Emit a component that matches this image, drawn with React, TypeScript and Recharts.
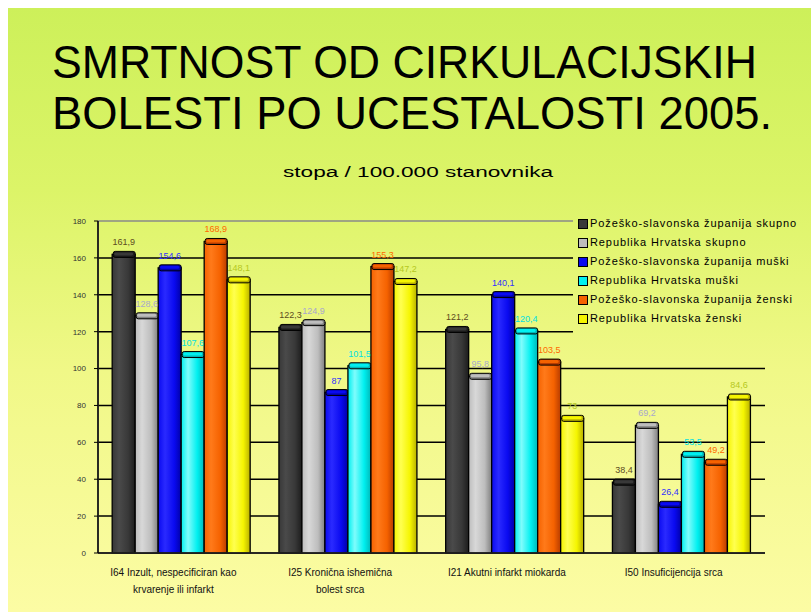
import {
  Bar,
  BarChart,
  CartesianGrid,
  LabelList,
  ReferenceArea,
  ReferenceLine,
  XAxis,
  YAxis,
} from "recharts";

const categories = [
  "I64 Inzult, nespecificiran kao\nkrvarenje ili infarkt",
  "I25 Kronična ishemična\nbolest srca",
  "I21 Akutni infarkt miokarda",
  "I50 Insuficijencija srca",
];

const seriesNames = [
  "Požeško-slavonska županija skupno",
  "Republika Hrvatska skupno",
  "Požeško-slavonska županija muški",
  "Republika Hrvatska muški",
  "Požeško-slavonska županija ženski",
  "Republika Hrvatska ženski",
];

const pszSkupno = [161.9, 122.3, 121.2, 38.4];
const rhSkupno = [128.6, 124.9, 95.8, 69.2];
const pszMuski = [154.6, 87, 140.1, 26.4];
const rhMuski = [107.6, 101.5, 120.4, 53.5];
const pszZenski = [168.9, 155.3, 103.5, 49.2];
const rhZenski = [148.1, 147.2, 73, 84.6];

const yTicks = [0, 20, 40, 60, 80, 100, 120, 140, 160, 180];

const seriesValues = [pszSkupno, rhSkupno, pszMuski, rhMuski, pszZenski, rhZenski];

// left light / mid / right dark for the cylinder look
const barShades = [
  ["#4a4a4a", "#383838", "#1c1c1c"],
  ["#d8d8d8", "#bdbdbd", "#808080"],
  ["#2a2aff", "#0a0af0", "#0000a8"],
  ["#7ffcfc", "#00f0f0", "#00b8b8"],
  ["#ff7a1a", "#f56200", "#b83c00"],
  ["#ffff50", "#f5f500", "#b8b000"],
];
const labelColors = ["#5c4b1e", "#a8a8cc", "#3030ff", "#00e0e0", "#ff6a00", "#b5c81e"];

const FONT = "'Liberation Sans', Arial, sans-serif";
const BG = "linear-gradient(to bottom, #cdf05a 0%, #dcf468 30%, #f0f887 60%, #fcfca4 100%)";

// legend box sits over the top right of the wall
const LEGEND_LEFT = 573;
const LEGEND_BOTTOM = 332;

const data = categories.map((cat, i) => {
  const row: Record<string, string | number> = { cat };
  seriesValues.forEach((vals, s) => {
    row["s" + s] = vals[i];
  });
  return row;
});

const fmt = (v: any) => {
  const n = Number(v);
  return Number.isInteger(n) ? String(n) : n.toFixed(1).replace(".", ",");
};

function CylBar(props: any) {
  const { x, y, width, height, sIndex } = props;
  if (!height || height <= 0) return null;
  const id = "cyl" + sIndex;
  return (
    <g>
      <rect x={x} y={y} width={width} height={height} fill={`url(#${id})`} stroke="#000" strokeWidth={1.3} />
      <rect
        x={x + 1}
        y={y - 3}
        width={width - 1}
        height={6}
        rx={2}
        fill={barShades[sIndex][2]}
        stroke="#000"
        strokeWidth={1}
      />
      <rect x={x + 2} y={y - 2} width={width - 4} height={3} rx={1.5} fill={barShades[sIndex][1]} />
    </g>
  );
}

function GridLine(p: any) {
  const top = p.y1 <= p.offset?.top + 1;
  const x2 = p.y1 < LEGEND_BOTTOM ? LEGEND_LEFT : p.x2;
  return (
    <line
      x1={p.x1}
      y1={p.y1}
      x2={x2}
      y2={p.y2}
      stroke={top ? "#8a8a8a" : "#000"}
      strokeWidth={1.5}
    />
  );
}

function CatTick({ x, y, payload }: any) {
  const lines = String(payload.value).split("\n");
  return (
    <text x={x - 8} y={y + 15} textAnchor="middle" fontSize={10} fill="#111" fontFamily={FONT}>
      {lines.map((l, i) => (
        <tspan key={i} x={x - 8} dy={i === 0 ? 0 : 17}>
          {l}
        </tspan>
      ))}
    </text>
  );
}

function LegendBox() {
  return (
    <div
      style={{
        position: "absolute",
        left: LEGEND_LEFT,
        top: 207,
        width: 238,
        height: 124,
        paddingTop: 7,
        paddingLeft: 5,
        boxSizing: "border-box",
        fontFamily: FONT,
        fontSize: 11,
        lineHeight: "19px",
        color: "#000",
        letterSpacing: 0.9,
      }}
    >
      {seriesNames.map((name, i) => (
        <div key={name} style={{ display: "flex", alignItems: "center", whiteSpace: "nowrap" }}>
          <span
            style={{
              display: "inline-block",
              width: 8,
              height: 8,
              border: "1px solid #000",
              background: barShades[i][1],
              marginRight: 2,
            }}
          />
          {name}
        </div>
      ))}
    </div>
  );
}

export default function App() {
  return (
    <div style={{ position: "absolute", left: 0, top: 0, width: 811, height: 612, background: "#fff", overflow: "hidden" }}>
      <div
        style={{
          position: "absolute",
          left: 8,
          top: 8,
          width: 803,
          height: 604,
          backgroundImage: BG,
        }}
      />
      <svg style={{ position: "absolute", left: 0, top: 0 }} width={811} height={200}>
        <text x={52} y={78} fontSize={46} fontFamily={FONT} fill="#000" textLength={705} lengthAdjust="spacingAndGlyphs">
          SMRTNOST OD CIRKULACIJSKIH
        </text>
        <text x={52} y={129} fontSize={46} fontFamily={FONT} fill="#000" textLength={720} lengthAdjust="spacingAndGlyphs">
          BOLESTI PO UCESTALOSTI 2005.
        </text>
        <text x={283} y={177} fontSize={14} fontFamily={FONT} fill="#000" textLength={270} lengthAdjust="spacingAndGlyphs">
          stopa / 100.000 stanovnika
        </text>
      </svg>
      <div style={{ position: "absolute", left: 0, top: 0 }}>
        <BarChart
          width={811}
          height={612}
          data={data}
          margin={{ top: 221, right: 46, bottom: 29, left: 58 }}
          barCategoryGap="8.5%"
          barGap={0}
        >
          <defs>
            {barShades.map((s, i) => (
              <linearGradient key={i} id={"cyl" + i} x1="0" y1="0" x2="1" y2="0">
                <stop offset="0%" stopColor={s[1]} />
                <stop offset="30%" stopColor={s[0]} />
                <stop offset="70%" stopColor={s[1]} />
                <stop offset="100%" stopColor={s[2]} />
              </linearGradient>
            ))}
          </defs>
          <CartesianGrid vertical={false} horizontal={(p: any) => <GridLine key={p.key} {...p} />} />
          <XAxis
            dataKey="cat"
            interval={0}
            tick={<CatTick />}
            tickLine={false}
            axisLine={{ stroke: "#222", strokeWidth: 1.5 }}
          />
          <XAxis xAxisId="f" type="number" domain={[0, 4]} hide />
          <YAxis
            domain={[0, 180]}
            ticks={yTicks}
            width={40}
            tickSize={4}
            tickMargin={8}
            tick={{ fontSize: 8, fill: "#333", fontFamily: FONT }}
            axisLine={{ stroke: "#000", strokeWidth: 1.5 }}
            tickLine={{ stroke: "#000" }}
          />
          <ReferenceArea xAxisId="f" x1={0} x2={4} y1={0} y2={2} fill="#999" fillOpacity={1} stroke="#777" />
          <ReferenceLine xAxisId="f" x={0} stroke="#8a8a8a" strokeWidth={1.5} />
          <ReferenceLine
            xAxisId="f"
            segment={[
              { x: 4, y: 0 },
              { x: 4, y: 120 },
            ]}
            stroke="#8a8a8a"
            strokeWidth={1.5}
          />
          {seriesNames.map((name, i) => (
            <Bar
              key={name}
              name={name}
              dataKey={"s" + i}
              fill={barShades[i][1]}
              isAnimationActive={false}
              shape={(p: any) => <CylBar {...p} sIndex={i} />}
            >
              <LabelList
                dataKey={"s" + i}
                position="top"
                offset={9}
                formatter={fmt}
                fill={labelColors[i]}
                fontSize={9}
                fontFamily={FONT}
              />
            </Bar>
          ))}
        </BarChart>
      </div>
      <LegendBox />
    </div>
  );
}
